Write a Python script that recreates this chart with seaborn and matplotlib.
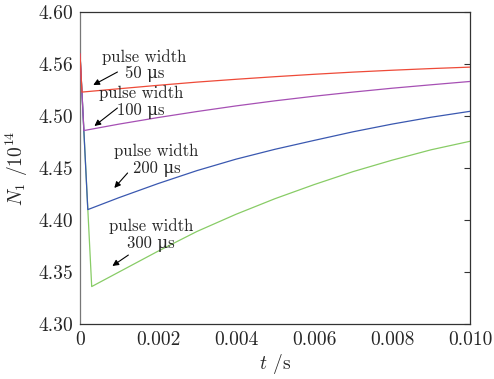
import matplotlib
matplotlib.use("Agg")
import matplotlib.pyplot as plt
import seaborn as sns
import pandas as pd

# ---- data ----
t_grid = [0.001, 0.002, 0.003, 0.004, 0.005, 0.006, 0.007, 0.008, 0.009, 0.010]

t_50 = [0.0, 0.00005] + t_grid
n_50 = [4.560, 4.523, 4.5262, 4.5295, 4.5326, 4.5353, 4.5378, 4.5401, 4.5422, 4.5440, 4.5456, 4.5470]

t_100 = [0.0, 0.0001] + t_grid
n_100 = [4.560, 4.486, 4.4922, 4.4985, 4.5043, 4.5097, 4.5146, 4.5190, 4.5230, 4.5267, 4.5300, 4.5332]

t_200 = [0.0, 0.0002] + t_grid
n_200 = [4.560, 4.410, 4.4215, 4.4350, 4.4475, 4.4585, 4.4680, 4.4765, 4.4848, 4.4922, 4.4988, 4.5045]

t_300 = [0.0, 0.0003] + t_grid
n_300 = [4.560, 4.336, 4.3500, 4.3700, 4.3890, 4.4055, 4.4205, 4.4340, 4.4465, 4.4575, 4.4675, 4.4757]

labels = ["50", "100", "200", "300"]
colors = ["#ee4a38", "#a650b4", "#3a58b0", "#88cc66"]

x_ticks = [0.000, 0.001, 0.002, 0.003, 0.004, 0.005, 0.006, 0.007, 0.008, 0.009, 0.010]
x_ticklabels = ["0", "", "0.002", "", "0.004", "", "0.006", "", "0.008", "", "0.010"]
y_ticks = [4.30, 4.35, 4.40, 4.45, 4.50, 4.55, 4.60]
y_ticklabels = ["4.30", "4.35", "4.40", "4.45", "4.50", "4.56", "4.60"]

series = [(t_50, n_50), (t_100, n_100), (t_200, n_200), (t_300, n_300)]

# ---- style ----
sns.set_style("white")
plt.rcParams["font.family"] = ["cmr10", "DejaVu Serif"]
plt.rcParams["mathtext.fontset"] = "cm"
plt.rcParams["axes.formatter.use_mathtext"] = True

fig = plt.figure(figsize=(4.94, 3.79), dpi=100)
ax = fig.add_axes([80 / 494, 55 / 379, 390 / 494, 312 / 379])
ax.set_facecolor("white")

# draw green first so red lies on top (shared depletion segment)
for (tt, nn), lab, col, z in reversed(list(zip(series, labels, colors, [5, 4, 3, 2]))):
    df = pd.DataFrame({"t": tt, "N": nn})
    sns.lineplot(data=df, x="t", y="N", ax=ax, color=col, linewidth=0.9,
                 estimator=None, sort=False, zorder=z)

ax.set_xlim(0, 0.010)
ax.set_ylim(4.30, 4.60)
ax.set_xticks(x_ticks)
ax.set_xticklabels(x_ticklabels)
ax.set_yticks(y_ticks)
ax.set_yticklabels(y_ticklabels)
ax.tick_params(axis="both", direction="in", labelsize=14, length=4, width=0.8,
               color="#333333", pad=5)
ax.tick_params(axis="y", right=True, labelright=False)
for s in ax.spines.values():
    s.set_color("#333333")
    s.set_linewidth(0.9)
ax.spines["left"].set_color("#777777")

ax.set_xlabel(r"$t$ /s", fontsize=14, labelpad=2)
ax.set_ylabel(r"$N_1$ /10$^{14}$", fontsize=14, labelpad=6)

# annotations: (text position, arrow tail, arrow head) in data coords
ann = [
    ("pulse width\n50 μs", (0.00165, 4.5486), (0.00096, 4.5423), (0.00034, 4.5298)),
    ("pulse width\n100 μs", (0.00157, 4.5135), (0.00096, 4.5077), (0.00037, 4.4904)),
    ("pulse width\n200 μs", (0.00196, 4.4577), (0.00122, 4.4452), (0.00088, 4.4308)),
    ("pulse width\n300 μs", (0.00183, 4.3856), (0.00124, 4.3663), (0.00083, 4.3558)),
]
for txt, tp, tail, head in ann:
    ax.text(tp[0], tp[1], txt, ha="center", va="center", fontsize=12,
            multialignment="center", linespacing=1.1, zorder=10,
            family=["cmr10", "DejaVu Serif"])
    ax.annotate("", xy=head, xytext=tail,
                arrowprops=dict(arrowstyle="-|>", color="black", lw=0.8,
                                mutation_scale=9, shrinkA=0, shrinkB=0),
                zorder=10)

fig.savefig("out.png", dpi=100)
